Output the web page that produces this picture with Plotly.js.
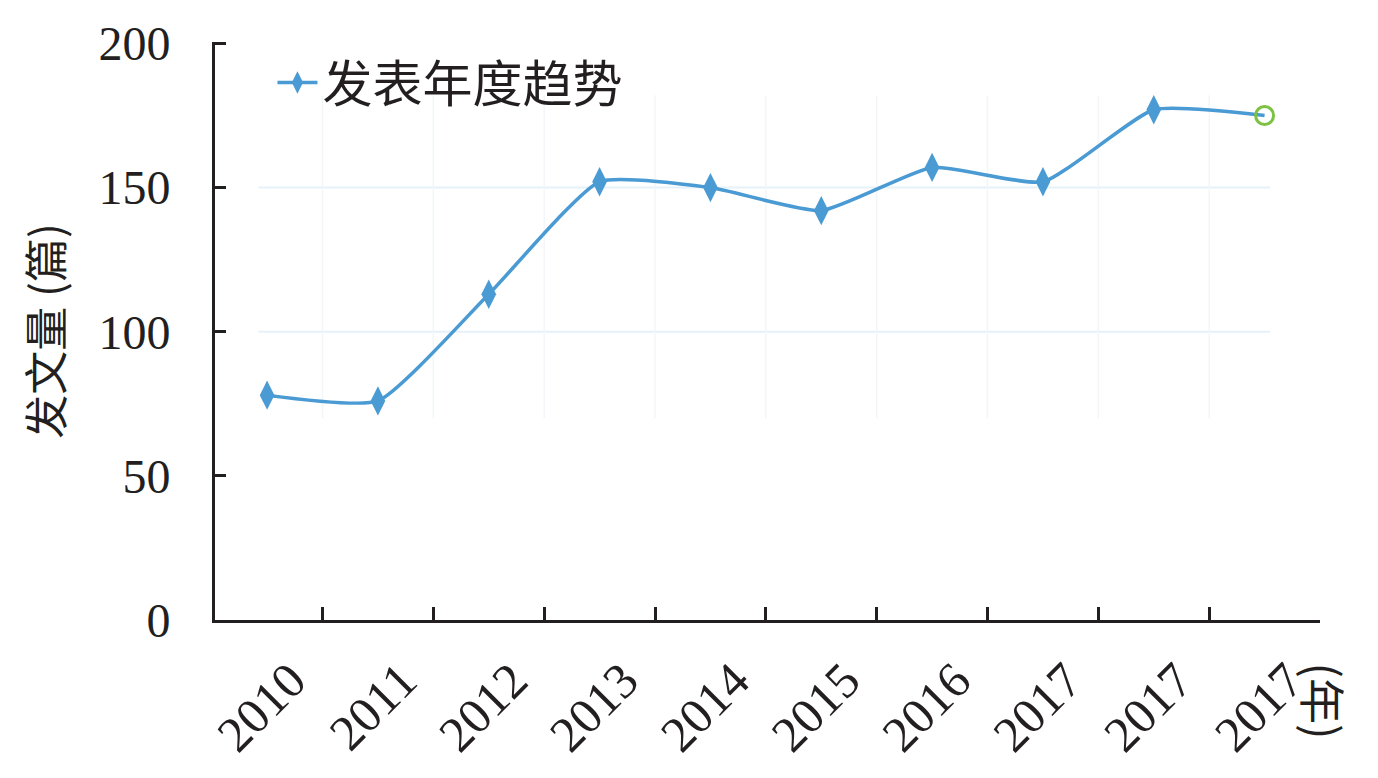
<!DOCTYPE html>
<html>
<head>
<meta charset="utf-8">
<script src="https://cdn.plot.ly/plotly-3.0.1.min.js"></script>
<style>html,body{margin:0;padding:0;background:#fff;}#chart{width:1378px;height:778px;}</style>
</head>
<body>
<div id="chart"></div>
<script>
// Data
const yearLabels = ["2010","2011","2012","2013","2014","2015","2016","2017","2017","2017"];
const paperCounts = [78, 76, 113, 152, 150, 142, 157, 152, 177, 175];
const seriesName = "发表年度趋势";
const yTickVals = [0, 50, 100, 150, 200];
const gridYVals = [100, 150];

const idx = yearLabels.map((_, i) => i);
const boundaries = idx.slice(0, -1).map(i => i + 0.5);

const lineColor = "#4a9ad3";
const axisColor = "#231f20";
const serif = "Liberation Serif, Times New Roman, serif";
const cjk = "Noto Sans CJK SC, sans-serif";

const lastI = idx.length - 1;
const markerSizes = idx.map(i => (i === lastI ? 0 : 21));

const traces = [
  {
    x: idx,
    y: paperCounts,
    type: "scatter",
    mode: "lines+markers",
    name: seriesName,
    line: {color: lineColor, width: 3.5, shape: "spline", smoothing: 0.5},
    marker: {symbol: "diamond-tall", size: markerSizes, color: lineColor, opacity: 1, line: {width: 0}},
    showlegend: true
  },
  {
    x: [idx[lastI]],
    y: [paperCounts[lastI]],
    type: "scatter",
    mode: "markers",
    marker: {symbol: "circle-open", size: 18, color: "#7dc242", line: {width: 3, color: "#7dc242"}},
    showlegend: false,
    hoverinfo: "skip"
  }
];

const shapes = [];
gridYVals.forEach(v => shapes.push({
  type: "line", xref: "x", yref: "y", x0: -0.08, x1: 9.05, y0: v, y1: v,
  line: {color: "#e6f2fa", width: 2}, layer: "below"
}));
boundaries.forEach(b => shapes.push({
  type: "line", xref: "x", yref: "y", x0: b, x1: b, y0: 70, y1: 182,
  line: {color: "#f3f6f9", width: 1.5}, layer: "below"
}));

const layout = {
  width: 1378, height: 778,
  margin: {l: 215, r: 58, t: 42, b: 158},
  paper_bgcolor: "#ffffff",
  plot_bgcolor: "#ffffff",
  showlegend: true,
  legend: {
    x: 0.052, y: 0.93, xanchor: "left", yanchor: "middle",
    font: {family: cjk, size: 50, color: "#231f20"},
    bgcolor: "rgba(0,0,0,0)", itemwidth: 40
  },
  xaxis: {
    range: [-0.47, 9.5],
    tickmode: "array",
    tickvals: idx,
    ticktext: yearLabels,
    tickangle: -45,
    ticks: "",
    ticklabelstandoff: 8,
    ticklabelshift: 24,
    tickfont: {family: serif, size: 50, color: "#231f20"},
    showgrid: false,
    zeroline: false,
    showline: true,
    linecolor: axisColor,
    linewidth: 3,
    minor: {ticks: "inside", ticklen: 13, tickwidth: 3, tickcolor: axisColor, tickmode: "array", tickvals: boundaries, showgrid: false}
  },
  yaxis: {
    range: [0, 200.5],
    tickmode: "array",
    tickvals: yTickVals,
    ticks: "inside",
    ticklen: 11,
    tickwidth: 3,
    tickcolor: axisColor,
    ticklabelstandoff: 32,
    tickfont: {family: serif, size: 48, color: "#231f20"},
    showgrid: false,
    zeroline: false,
    showline: true,
    linecolor: axisColor,
    linewidth: 3,
    title: {text: "发文量 (篇)", font: {family: cjk, size: 44, color: "#231f20"}, standoff: 22}
  },
  shapes: shapes,
  annotations: [
    {
      text: "(年)", xref: "paper", yref: "paper", x: 1.005, y: -0.14,
      xanchor: "center", yanchor: "middle", showarrow: false, textangle: 90,
      font: {family: cjk, size: 46, color: "#231f20"}
    }
  ]
};

Plotly.newPlot("chart", traces, layout, {displayModeBar: false, staticPlot: true});
</script>
</body>
</html>
